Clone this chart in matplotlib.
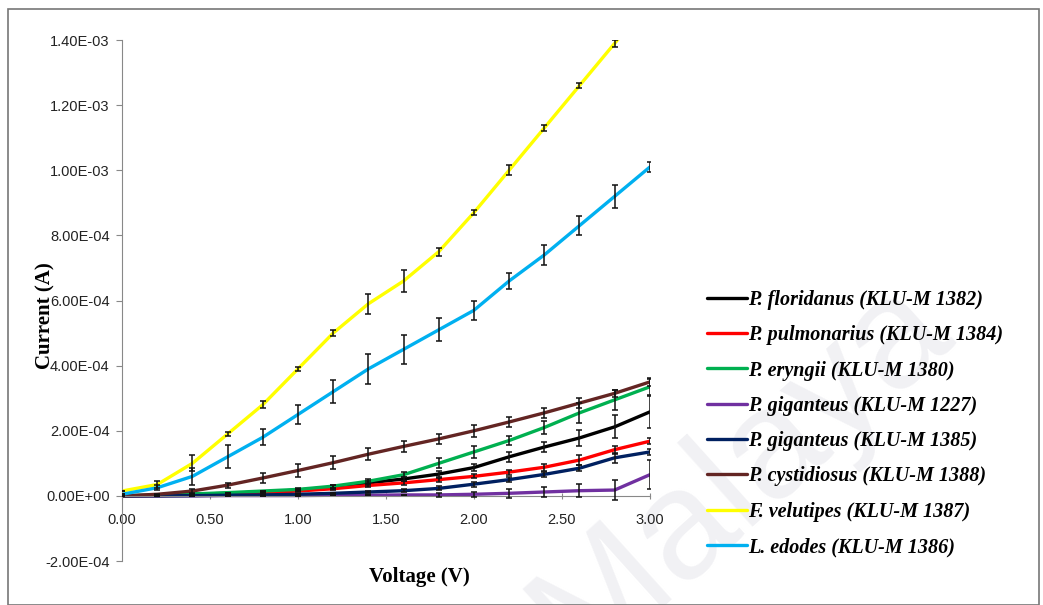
import numpy as np
import matplotlib
matplotlib.use("Agg")
import matplotlib.pyplot as plt
from matplotlib.ticker import FuncFormatter

# === Data ===
voltage = [0.0, 0.2, 0.4, 0.6, 0.8, 1.0, 1.2, 1.4, 1.6, 1.8, 2.0, 2.2, 2.4, 2.6, 2.8, 3.0]

labels = [
    "P. floridanus (KLU-M 1382)",
    "P. pulmonarius (KLU-M 1384)",
    "P. eryngii (KLU-M 1380)",
    "P. giganteus (KLU-M 1227)",
    "P. giganteus (KLU-M 1385)",
    "P. cystidiosus (KLU-M 1388)",
    "F. velutipes (KLU-M 1387)",
    "L. edodes (KLU-M 1386)",
]

# currents in units of 1e-4 A
floridanus = [0, 0.02, 0.05, 0.08, 0.12, 0.18, 0.27, 0.40, 0.52, 0.67, 0.87, 1.20, 1.50, 1.78, 2.12, 2.58]
pulmonarius = [0, 0.01, 0.03, 0.06, 0.10, 0.15, 0.22, 0.32, 0.40, 0.50, 0.60, 0.73, 0.88, 1.10, 1.42, 1.68]
eryngii = [0, 0.03, 0.06, 0.10, 0.15, 0.20, 0.30, 0.45, 0.65, 1.00, 1.35, 1.70, 2.10, 2.55, 2.95, 3.35]
giganteus_1227 = [0, 0, 0, 0.01, 0.01, 0.01, 0.02, 0.02, 0.03, 0.03, 0.05, 0.08, 0.12, 0.16, 0.18, 0.65]
giganteus_1385 = [0, 0, 0.01, 0.02, 0.03, 0.05, 0.08, 0.12, 0.16, 0.23, 0.36, 0.50, 0.66, 0.85, 1.17, 1.35]
cystidiosus = [0, 0.05, 0.15, 0.33, 0.55, 0.78, 1.02, 1.28, 1.52, 1.75, 2.00, 2.27, 2.55, 2.85, 3.15, 3.50]
velutipes = [0.15, 0.35, 1.00, 1.90, 2.80, 3.90, 5.00, 5.90, 6.60, 7.50, 8.70, 10.0, 11.3, 12.6, 13.9, 15.2]
edodes = [0.05, 0.25, 0.60, 1.20, 1.80, 2.50, 3.20, 3.90, 4.50, 5.10, 5.70, 6.60, 7.40, 8.30, 9.20, 10.1]

# error bars (same units)
err_floridanus = [0, 0, 0, 0, 0, 0.03, 0.05, 0.05, 0.06, 0.10, 0.12, 0.15, 0.16, 0.25, 0.35, 0.50]
err_pulmonarius = [0, 0, 0, 0, 0, 0.02, 0.03, 0.04, 0.05, 0.06, 0.06, 0.08, 0.10, 0.15, 0.12, 0.10]
err_eryngii = [0, 0, 0, 0, 0, 0.03, 0.05, 0.06, 0.08, 0.15, 0.18, 0.15, 0.20, 0.30, 0.30, 0.25]
err_giganteus_1227 = [0, 0, 0, 0, 0, 0, 0, 0, 0, 0.05, 0.08, 0.13, 0.15, 0.20, 0.30, 0.45]
err_giganteus_1385 = [0, 0, 0, 0, 0, 0, 0, 0.03, 0.04, 0.06, 0.08, 0.08, 0.08, 0.10, 0.15, 0.10]
err_cystidiosus = [0, 0.02, 0.05, 0.08, 0.15, 0.20, 0.20, 0.18, 0.18, 0.16, 0.18, 0.16, 0.16, 0.15, 0.10, 0.12]
err_velutipes = [0, 0.10, 0.25, 0.05, 0.10, 0.05, 0.10, 0.30, 0.35, 0.12, 0.08, 0.15, 0.08, 0.08, 0.10, 0]
err_edodes = [0, 0.08, 0.25, 0.35, 0.25, 0.30, 0.35, 0.45, 0.45, 0.35, 0.30, 0.25, 0.30, 0.30, 0.35, 0.15]

series = [floridanus, pulmonarius, eryngii, giganteus_1227, giganteus_1385, cystidiosus, velutipes, edodes]
errors = [err_floridanus, err_pulmonarius, err_eryngii, err_giganteus_1227,
          err_giganteus_1385, err_cystidiosus, err_velutipes, err_edodes]
colors = ["#000000", "#FF0000", "#00B050", "#7030A0", "#002060", "#632523", "#FFFF00", "#00B0F0"]

# === Figure ===
fig = plt.figure(figsize=(10.43, 6.05), dpi=100)

# faint watermark behind everything
fig.text(0.71, 0.22, "Malaya", fontsize=112, color="#F1F1F4",
         rotation=42, ha="center", va="center", fontfamily="Liberation Sans", zorder=-1)

ax = fig.add_axes([0.117, 0.0727, 0.506, 0.861])
ax.patch.set_alpha(0)

handles = []
for vals, errs, col, lab in zip(series, errors, colors, labels):
    y = np.array(vals) * 1e-4
    e = np.array(errs) * 1e-4
    ax.errorbar(voltage, y, yerr=e, fmt="none", ecolor="#111111", elinewidth=1.1,
                capsize=2.5, capthick=1.1, zorder=3)
    h, = ax.plot(voltage, y, color=col, lw=2.4, label=lab, zorder=2,
                 solid_capstyle="round")
    handles.append(h)

ax.set_xlim(0, 3.0)
ax.set_ylim(-2e-4, 1.4e-3)
ax.set_xticks(np.arange(0, 3.01, 0.5))
ax.set_yticks(np.arange(-2e-4, 1.41e-3, 2e-4))
ax.xaxis.set_major_formatter(FuncFormatter(lambda v, p: f"{v:.2f}"))
ax.yaxis.set_major_formatter(FuncFormatter(lambda v, p: f"{v:.2E}".replace("E-00", "E+00").replace("-0.00E", "0.00E")))

for sp in ["top", "right"]:
    ax.spines[sp].set_visible(False)
ax.spines["bottom"].set_position(("data", 0))
ax.spines["left"].set_color("#888888")
ax.spines["bottom"].set_color("#888888")
ax.tick_params(axis="both", colors="#888888", length=4, width=0.8, labelcolor="#222222")
ax.tick_params(axis="x", direction="inout", pad=10)
ax.tick_params(axis="y", pad=5)
for t in ax.get_xticklabels() + ax.get_yticklabels():
    t.set_fontfamily("Liberation Sans")
    t.set_fontsize(10.5)

ax.set_xlabel("Voltage (V)", fontfamily="Liberation Serif", fontweight="bold", fontsize=15,
              va="center")
ax.xaxis.set_label_coords(0.564, -0.031)
ax.set_ylabel("Current (A)", fontfamily="Liberation Serif", fontweight="bold", fontsize=15,
              va="center")
ax.yaxis.set_label_coords(-0.145, 0.472)

fig.legend(handles=handles, loc="center left", bbox_to_anchor=(0.660, 0.30),
           frameon=False, handlelength=2.0, handletextpad=0.05, labelspacing=0.76,
           prop={"family": "Liberation Serif", "weight": "bold", "style": "italic", "size": 14.5})

# outer frame
fig.patches.append(plt.Rectangle((0.008, 0.0), 0.988, 0.985, transform=fig.transFigure,
                                 fill=False, edgecolor="#777777", lw=1.2))

fig.savefig("out.png", dpi=100)
